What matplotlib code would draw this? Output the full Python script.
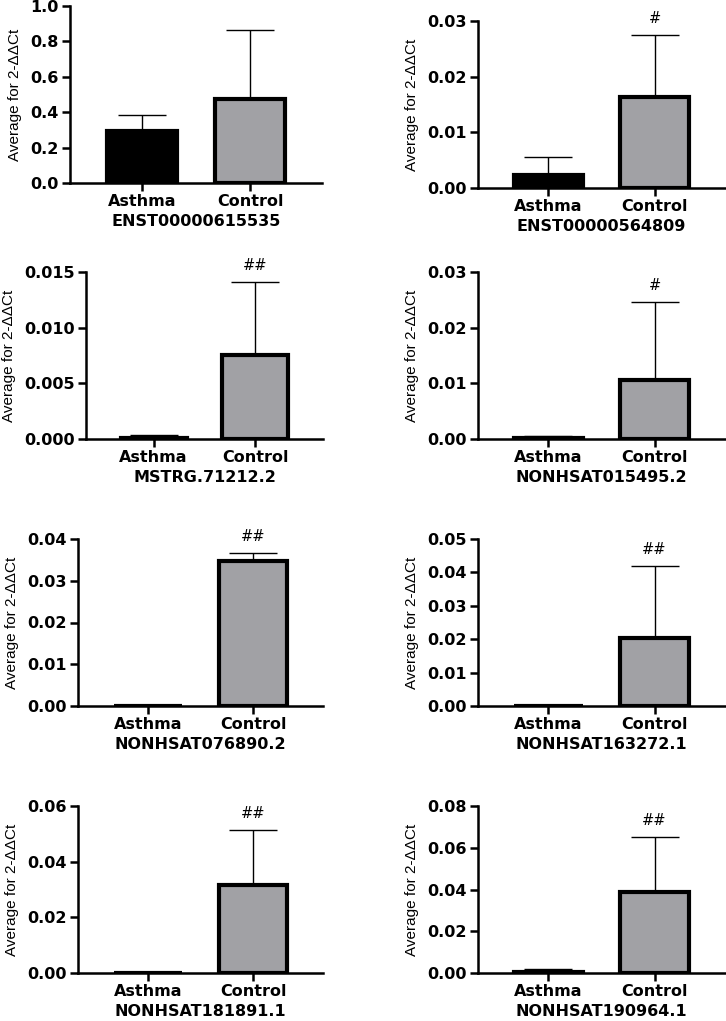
import matplotlib
matplotlib.use("Agg")
import matplotlib.pyplot as plt
import numpy as np

# values (mean and upper SD for each group)
genes = ["ENST00000615535", "ENST00000564809", "MSTRG.71212.2", "NONHSAT015495.2",
         "NONHSAT076890.2", "NONHSAT163272.1", "NONHSAT181891.1", "NONHSAT190964.1"]
groups = ["Asthma", "Control"]
asthma_mean = [0.295, 0.0023, 0.0001, 0.00022, 0.00002, 0.00004, 0.00005, 0.00048]
asthma_sd = [0.090, 0.0032, 0.00026, 0.00036, 0.00001, 0.00002, 0.00003, 0.0013]
control_mean = [0.473, 0.0163, 0.0075, 0.01056, 0.0348, 0.0204, 0.0317, 0.0386]
control_sd = [0.391, 0.0111, 0.0066, 0.0140, 0.0018, 0.0216, 0.0195, 0.0267]
marks = ["", "#", "##", "#", "##", "##", "##", "##"]
y_max = [1.0, 0.03, 0.015, 0.03, 0.04, 0.05, 0.06, 0.08]
y_step = [0.2, 0.01, 0.005, 0.01, 0.01, 0.01, 0.02, 0.02]
y_dec = [1, 2, 3, 2, 2, 2, 2, 2]

# axes boxes in pixels: left, right, top, bottom
boxes = [(70, 322, 6, 183), (478, 725, 21, 188),
         (86, 323, 272, 439), (478, 725, 272, 439),
         (78, 323, 539, 706), (478, 725, 539, 706),
         (78, 323, 806, 973), (478, 725, 806, 973)]

W, H = 726, 1021
fig = plt.figure(figsize=(W / 100, H / 100), dpi=100)

gray = "#a1a1a5"
for i in range(8):
    l, r, t, b = boxes[i]
    ax = fig.add_axes([l / W, 1 - b / H, (r - l) / W, (b - t) / H])
    x = np.arange(2)
    means = [asthma_mean[i], control_mean[i]]
    sds = [asthma_sd[i], control_sd[i]]
    ax.errorbar(x, means, yerr=[[0, 0], sds], fmt="none", ecolor="black",
                elinewidth=1.0, capsize=17, capthick=1.0, zorder=1)
    ax.bar(x, means, width=0.65, color=["black", gray], edgecolor="black",
           linewidth=3.0, zorder=2)
    if marks[i]:
        ax.annotate(marks[i], (1, means[1] + sds[1]), xytext=(0, 12),
                    textcoords="offset points", ha="center", va="center",
                    fontsize=10.5, annotation_clip=False)

    ax.set_xlim(-0.665, 1.665)
    ax.set_ylim(0, y_max[i])
    ticks = np.arange(0, y_max[i] + y_step[i] / 2, y_step[i])
    ax.set_yticks(ticks)
    ax.set_yticklabels([f"{v:.{y_dec[i]}f}" for v in ticks],
                       fontweight="bold", fontsize=11.5)
    ax.set_xticks(x)
    ax.set_xticklabels(groups, fontweight="bold", fontsize=11.5)
    ax.set_xlabel(genes[i], fontweight="bold", fontsize=11.5, labelpad=3.5)
    ax.set_ylabel("Average for 2-ΔΔCt", fontsize=11, labelpad=6,
                  family=["Liberation Sans", "DejaVu Sans"])

    for side in ["top", "right"]:
        ax.spines[side].set_visible(False)
    for side in ["left", "bottom"]:
        ax.spines[side].set_linewidth(1.8)
    ax.tick_params(axis="both", width=1.8, length=6, pad=2)

fig.savefig("out.png", dpi=100)
